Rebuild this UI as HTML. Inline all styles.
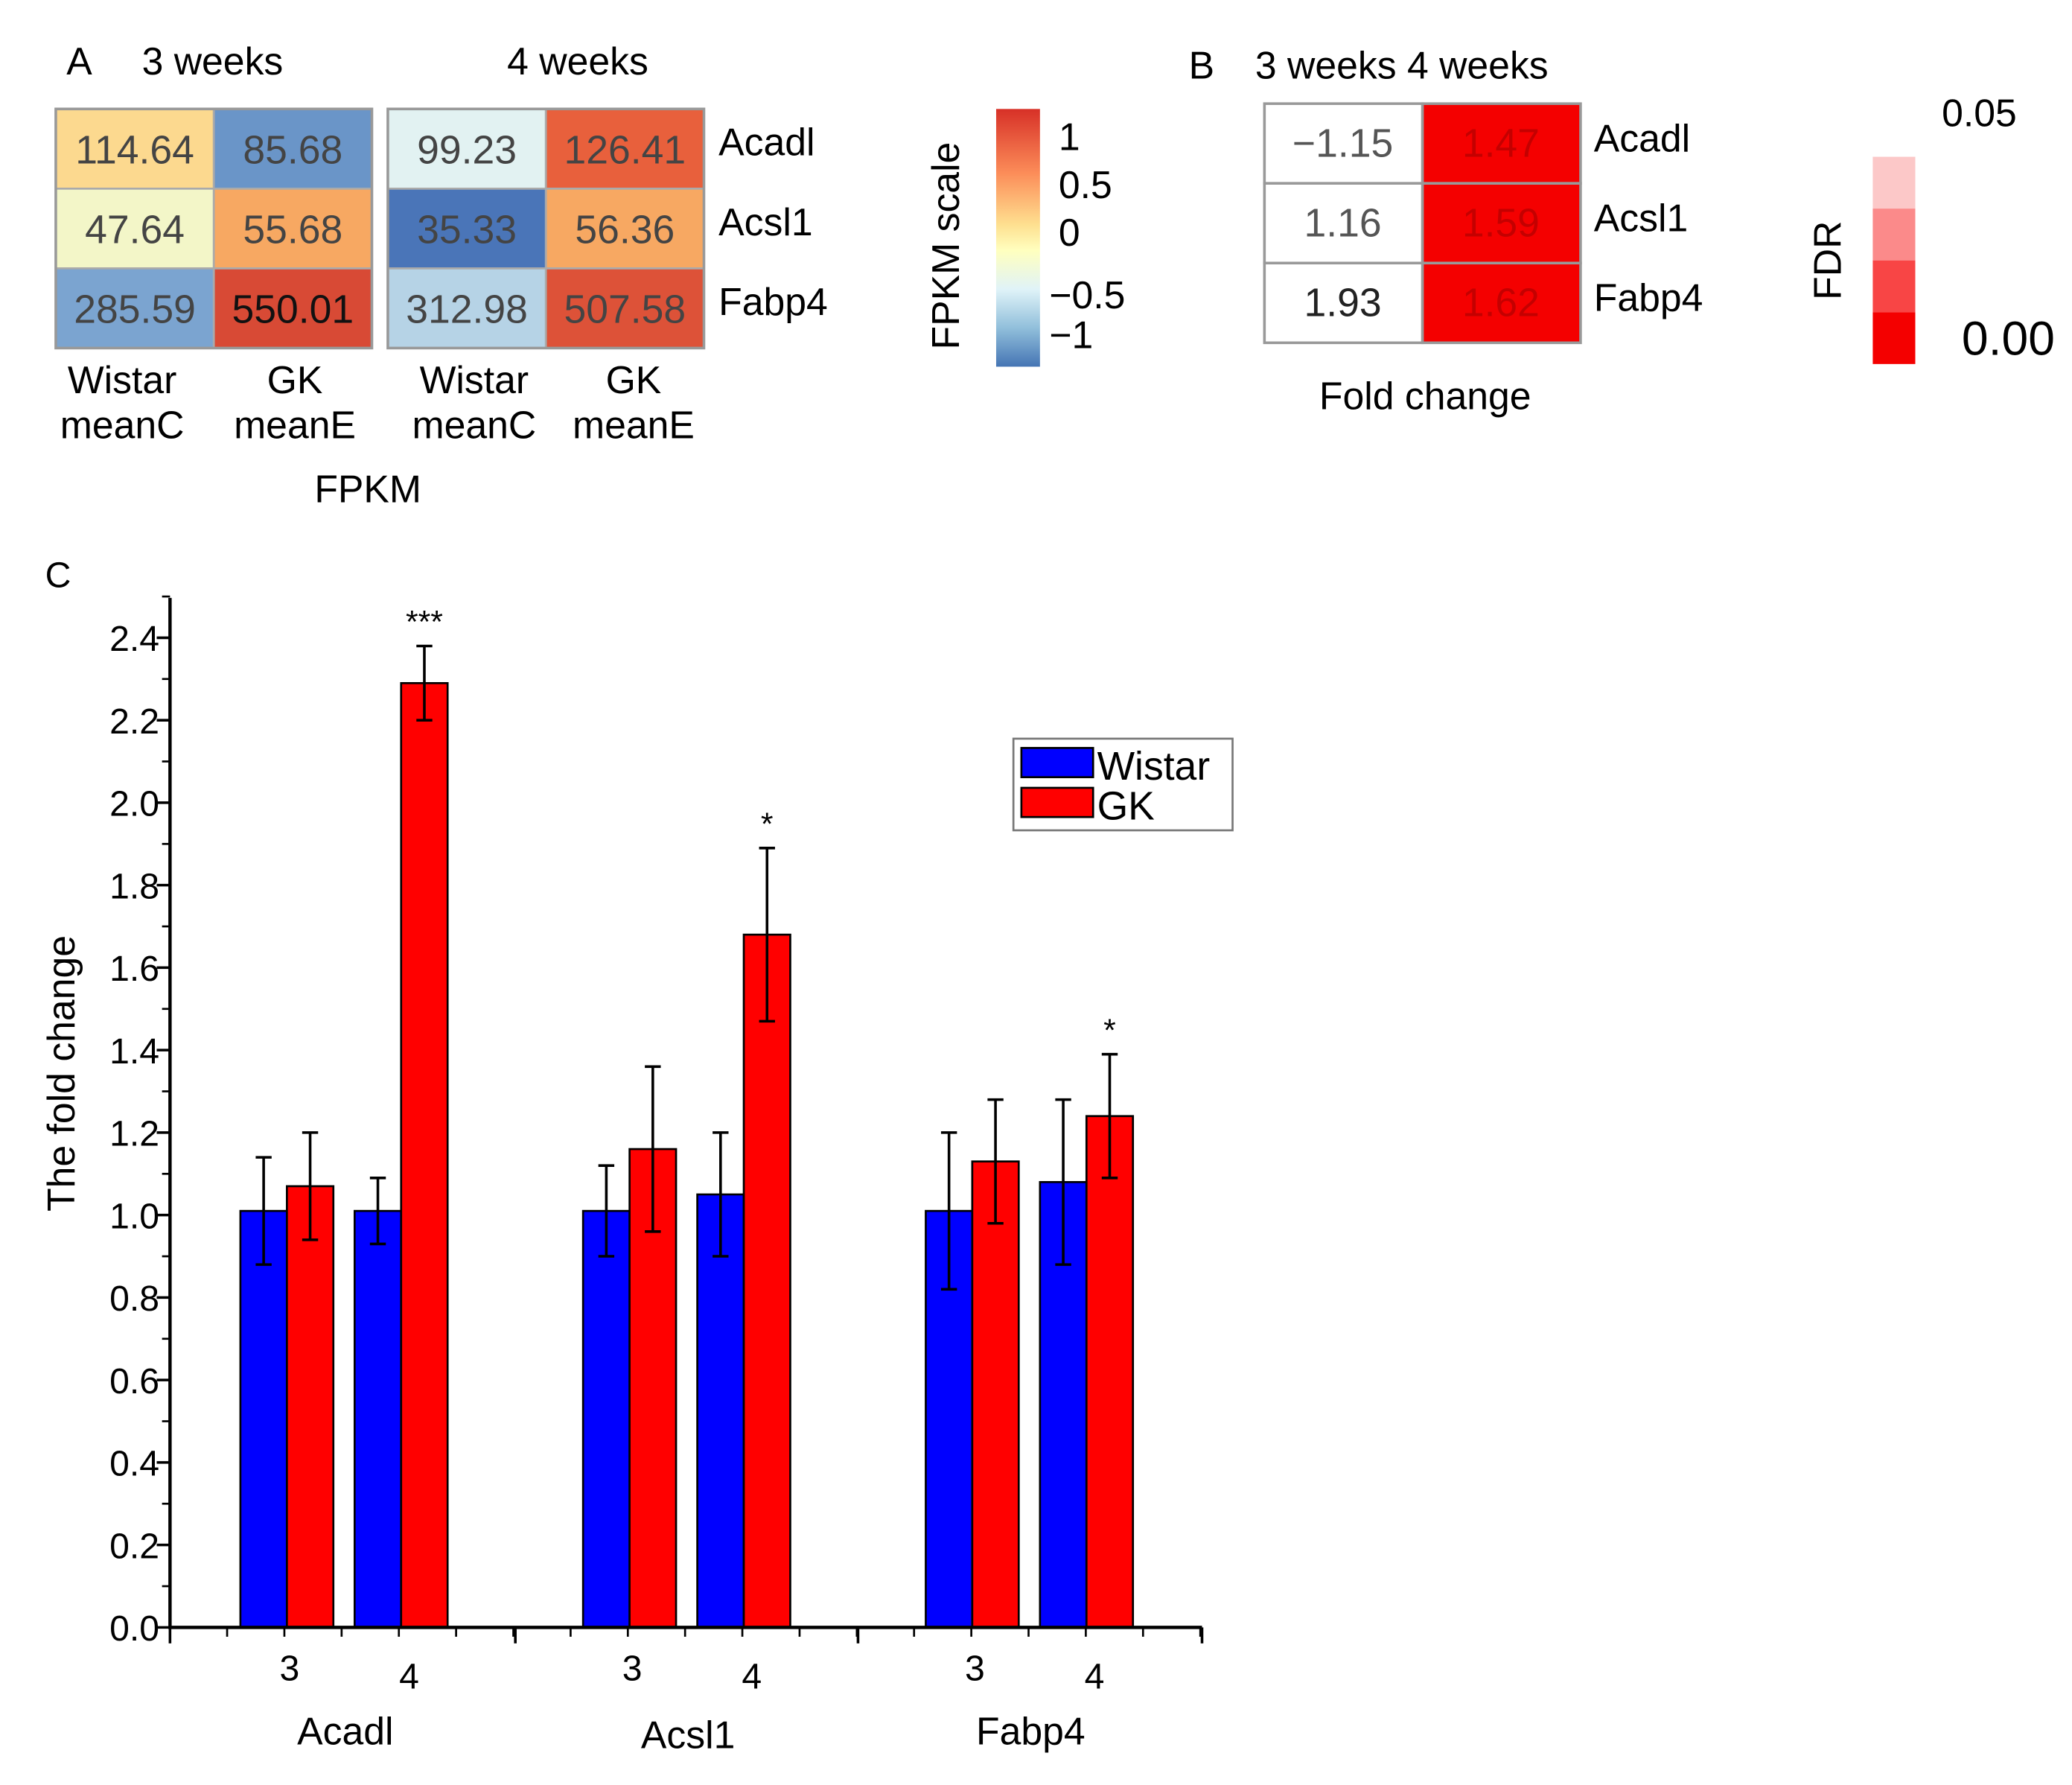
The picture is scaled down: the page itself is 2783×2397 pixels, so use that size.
<!DOCTYPE html>
<html><head><meta charset="utf-8"><style>
html,body{margin:0;padding:0;background:#fff;}
svg{display:block;font-family:"Liberation Sans",Arial,sans-serif;}
</style></head><body>
<svg id="fig" width="2783" height="2397" viewBox="0 0 1560 1343.6" xmlns="http://www.w3.org/2000/svg">
<g id="panelA"></g>
<g id="panelB"></g>
<g id="panelC"></g>
</svg>
<script>
// Panel A data
const genes=["Acadl","Acsl1","Fabp4"];
const fpkm3w=[["114.64","85.68"],["47.64","55.68"],["285.59","550.01"]];
const fpkm4w=[["99.23","126.41"],["35.33","56.36"],["312.98","507.58"]];
const col3w=[["#fcd98f","#6a95c8"],["#f3f6c8","#f7a862"],["#7ba4d0","#d84a35"]];
const col4w=[["#e2f2f2","#e8603c"],["#4a75b8","#f7a862"],["#b6d3e6","#dd5238"]];
// Panel B data
const fold3w=["\u22121.15","1.16","1.93"];
const fold4w=["1.47","1.59","1.62"];
// Panel C data
const groups=["Acadl","Acsl1","Fabp4"];
const wistar=[[1.01,1.01],[1.01,1.05],[1.01,1.08]];
const wistarErr=[[0.13,0.08],[0.11,0.15],[0.19,0.20]];
const gk=[[1.07,2.29],[1.16,1.68],[1.13,1.24]];
const gkErr=[[0.13,0.09],[0.20,0.21],[0.15,0.15]];
const signif=[["",  "***"],["","*"],["","*"]];
const yTicks=["0.0","0.2","0.4","0.6","0.8","1.0","1.2","1.4","1.6","1.8","2.0","2.2","2.4"];

const NS="http://www.w3.org/2000/svg";
function mk(parent,tag,attrs,text){const e=document.createElementNS(NS,tag);for(const k in attrs)e.setAttribute(k,attrs[k]);if(text!==undefined)e.textContent=text;parent.appendChild(e);return e;}

// ---------- Panel A ----------
const A=document.getElementById('panelA');
let t;
t=mk(A,'text',{x:50,y:56,'font-size':29},"A");


t=mk(A,'text',{x:160,y:56,'font-size':29,'text-anchor':'middle'},"3 weeks");


t=mk(A,'text',{x:435,y:56,'font-size':29,'text-anchor':'middle'},"4 weeks");


function heat(x0,vals,cols,nm){
  for(let r=0;r<3;r++)for(let c=0;c<2;c++){
    const g=mk(A,'g',{});
    
    
    mk(g,'rect',{x:x0+c*119,y:82+r*60,width:119,height:60,fill:cols[r][c],stroke:'#aaa','stroke-width':1.5});
    const dark=(vals[r][c]==="550.01");
    mk(g,'text',{x:x0+c*119+59.5,y:82+r*60+41,'font-size':30,'text-anchor':'middle',fill:dark?'#111':'#444'},vals[r][c]);
  }
  mk(A,'rect',{x:x0,y:82,width:238,height:180,fill:'none',stroke:'#999','stroke-width':2});
}
heat(42,fpkm3w,col3w,'heatmap-3w');
heat(292,fpkm4w,col4w,'heatmap-4w');
genes.forEach((g,i)=>{t=mk(A,'text',{x:541,y:117+i*60,'font-size':29},g);

});
[[92,"Wistar","meanC"],[222,"GK","meanE"],[357,"Wistar","meanC"],[477,"GK","meanE"]].forEach((d,i)=>{
  t=mk(A,'text',{x:d[0],y:296,'font-size':29,'text-anchor':'middle'},d[1]);
  
  
  mk(A,'text',{x:d[0],y:330,'font-size':29,'text-anchor':'middle'},d[2]);
});
t=mk(A,'text',{x:277,y:378,'font-size':29,'text-anchor':'middle'},"FPKM");


// color scale
const defs=mk(document.getElementById('fig'),'defs',{});
const lg=mk(defs,'linearGradient',{id:'fs',x1:0,y1:0,x2:0,y2:1});
[["0","#d73027"],["0.25","#fc8d59"],["0.45","#fee090"],["0.55","#ffffbf"],["0.7","#e0f3f8"],["0.85","#91bfdb"],["1","#4575b4"]].forEach(s=>mk(lg,'stop',{offset:s[0],'stop-color':s[1]}));
t=mk(A,'rect',{x:750,y:82,width:33,height:194,fill:'url(#fs)'});


t=mk(A,'text',{x:0,y:0,'font-size':29,'text-anchor':'middle',transform:'translate(722,185) rotate(-90)'},"FPKM scale");


[[797,113,"1"],[797,149,"0.5"],[797,185,"0"],[790,232,"\u22120.5"],[790,262,"\u22121"]].forEach(d=>mk(A,'text',{x:d[0],y:d[1],'font-size':29},d[2]));

// ---------- Panel B ----------
const B=document.getElementById('panelB');
t=mk(B,'text',{x:895,y:59,'font-size':29},"B");


t=mk(B,'text',{x:945,y:59,'font-size':29},"3 weeks 4 weeks");


for(let r=0;r<3;r++){
  const g1=mk(B,'g',{});
  
  
  mk(g1,'rect',{x:952,y:78+r*60,width:119,height:60,fill:'#fff',stroke:'#999','stroke-width':2});
  mk(g1,'text',{x:1011,y:78+r*60+40,'font-size':30,'text-anchor':'middle',fill:r==2?'#222':'#555'},fold3w[r]);
  const g2=mk(B,'g',{});
  
  
  mk(g2,'rect',{x:1071,y:78+r*60,width:119,height:60,fill:'#f40000',stroke:'#999','stroke-width':2});
  mk(g2,'text',{x:1130,y:78+r*60+40,'font-size':30,'text-anchor':'middle',fill:'#c40000'},fold4w[r]);
  t=mk(B,'text',{x:1200,y:114+r*60,'font-size':29},genes[r]);
  
  
}
t=mk(B,'text',{x:1073,y:308,'font-size':29,'text-anchor':'middle'},"Fold change");


["#fcc8c8","#fb8a8a","#f84545","#f40000"].forEach((c,i)=>{t=mk(B,'rect',{x:1410,y:118+i*39,width:32,height:39,fill:c});

});
t=mk(B,'text',{x:1462,y:95,'font-size':29},"0.05");


t=mk(B,'text',{x:1477,y:267,'font-size':36},"0.00");


t=mk(B,'text',{x:0,y:0,'font-size':29,'text-anchor':'middle',transform:'translate(1386,196) rotate(-90)'},"FDR");



// ---------- Panel C ----------
const C=document.getElementById('panelC');
const X0=128,Y0=1225,PPU=310.4;
const yS=v=>Y0-v*PPU;
const groupStart=[181,439,697];
const BW=35, weekOff=[0,86];
t=mk(C,'text',{x:34,y:442,'font-size':27},"C");


// bars
for(let g=0;g<3;g++)for(let w=0;w<2;w++){
  const xw=groupStart[g]+weekOff[w];
  [[wistar,wistarErr,'#0000ff','wistar',0],[gk,gkErr,'#ff0000','gk',BW]].forEach(s=>{
    const v=s[0][g][w],e=s[1][g][w],x=xw+s[4];
    const r=mk(C,'rect',{x:x,y:yS(v),width:BW,height:Y0-yS(v),fill:s[2],stroke:'#000','stroke-width':1.5});
    
    
    const cx=x+BW/2;
    const eb=mk(C,'path',{d:`M${cx},${yS(v-e)}V${yS(v+e)}M${cx-6},${yS(v+e)}H${cx+6}M${cx-6},${yS(v-e)}H${cx+6}`,stroke:'#000','stroke-width':2,fill:'none'});
    
    
  });
  if(signif[g][w]){
    const cx=xw+BW*1.5, v=gk[g][w]+gkErr[g][w];
    const st=mk(C,'text',{x:cx,y:yS(v)-10,'font-size':24,'text-anchor':'middle'},signif[g][w]);
    
    
  }
}
// axes
const ax=mk(C,'path',{d:`M${X0},450V${Y0}H905`,stroke:'#000','stroke-width':2.5,fill:'none'});


yTicks.forEach((lab,i)=>{
  const v=parseFloat(lab),y=yS(v);
  mk(C,'line',{x1:X0-10,y1:y,x2:X0,y2:y,stroke:'#000','stroke-width':2});
  const tl=mk(C,'text',{x:X0-8,y:y+10,'font-size':27,'text-anchor':'end'},lab);
  
  
  if(i<yTicks.length-1) mk(C,'line',{x1:X0-6,y1:yS(v+0.1),x2:X0,y2:yS(v+0.1),stroke:'#000','stroke-width':1.5});
});
mk(C,'line',{x1:X0-6,y1:yS(2.5),x2:X0,y2:yS(2.5),stroke:'#000','stroke-width':1.5});
[128,388,646,905].forEach(x=>mk(C,'line',{x1:x,y1:Y0,x2:x,y2:Y0+12,stroke:'#000','stroke-width':2}));
for(let x=128+43;x<905;x+=43.1) mk(C,'line',{x1:x,y1:Y0,x2:x,y2:Y0+7,stroke:'#000','stroke-width':1.5});
for(let g=0;g<3;g++){
  for(let w=0;w<2;w++){
    const cx=groupStart[g]+weekOff[w]+BW;
    mk(C,'text',{x:cx+(w?6:2),y:Y0+(w?46:40),'font-size':27,'text-anchor':'middle'},String(w+3));
  }
  const gl=mk(C,'text',{x:groupStart[g]+79,y:Y0+(g==1?91:88),'font-size':29,'text-anchor':'middle'},groups[g]);
  
  
}
t=mk(C,'text',{x:0,y:0,'font-size':29,'text-anchor':'middle',transform:'translate(56,808) rotate(-90)'},"The fold change");


// legend
const L=mk(C,'g',{});


mk(L,'rect',{x:763,y:556,width:165,height:69,fill:'#fff',stroke:'#777','stroke-width':1.5});
const le1=mk(L,'g',{});


mk(le1,'rect',{x:769,y:563,width:54,height:22,fill:'#0000ff',stroke:'#000','stroke-width':1.5});
mk(le1,'text',{x:826,y:587,'font-size':30},"Wistar");
const le2=mk(L,'g',{});


mk(le2,'rect',{x:769,y:593,width:54,height:22,fill:'#ff0000',stroke:'#000','stroke-width':1.5});
mk(le2,'text',{x:826,y:617,'font-size':30},"GK");
</script>
</body></html>
